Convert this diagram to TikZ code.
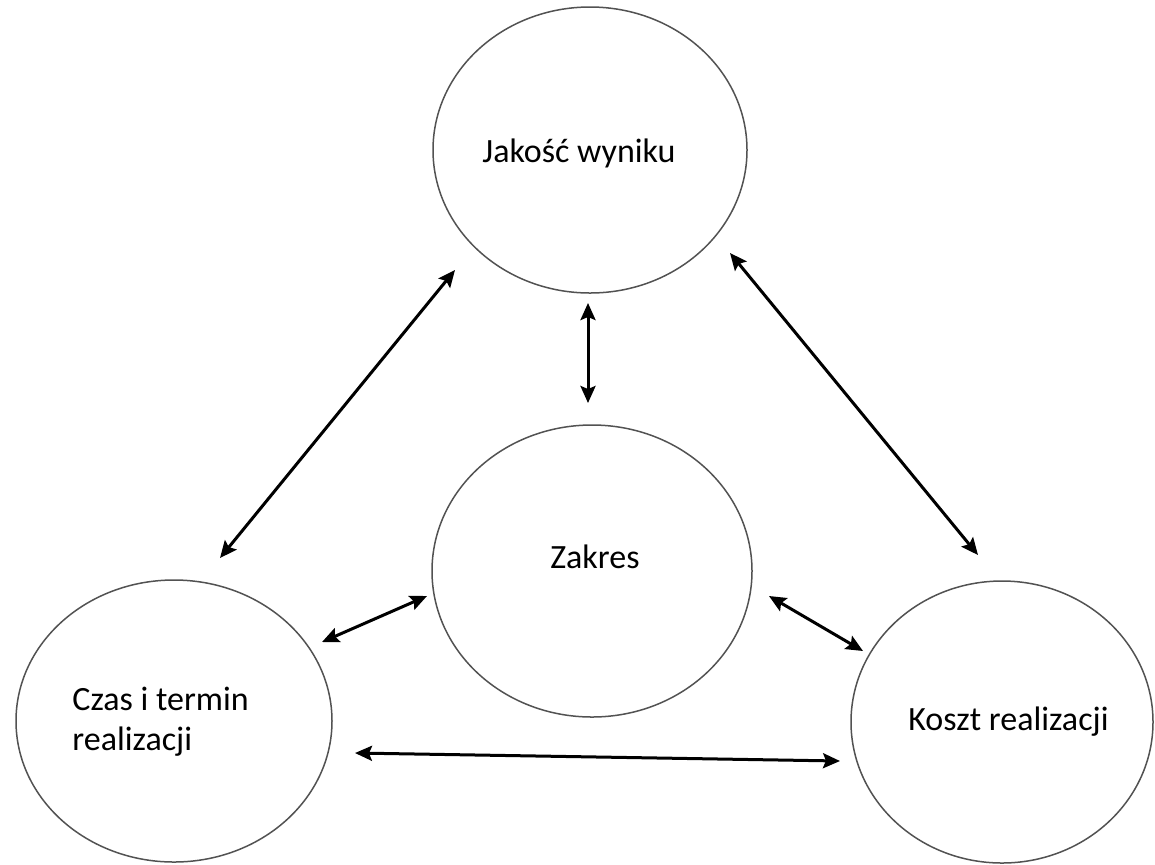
\documentclass[tikz,border=0pt]{standalone}
\usepackage{fontspec}
\setmainfont{Carlito}
\usetikzlibrary{shapes.geometric,arrows.meta}
\begin{document}
\begin{tikzpicture}[x=0.5pt,y=-0.5pt,
  circ/.style={draw=black!68, line width=0.75pt, ellipse, inner sep=0pt},
  lbl/.style={font=\fontsize{17}{20}\selectfont, text=black, inner sep=0pt, anchor=base west},
  link/.style={line width=1.5pt, {Stealth[length=8.5pt,width=7.5pt,inset=1.5pt]}-{Stealth[length=8.5pt,width=7.5pt,inset=1.5pt]}}]
\useasboundingbox (0,0) rectangle (1155,864);
% ellipses
\node[circ, minimum width=157pt, minimum height=143pt] (quality) at (590,150) {};
\node[circ, minimum width=160pt, minimum height=146pt] (scope) at (592,571) {};
\node[circ, minimum width=158pt, minimum height=141pt] (time) at (174,721) {};
\node[circ, minimum width=151pt, minimum height=141pt] (cost) at (1002,722) {};
% labels
\node[lbl] (tq) at (482,162) {Jakość wyniku};
\node[lbl] (ts) at (550,568) {Zakres};
\node[lbl] (tt1) at (72,710) {Czas i termin};
\node[lbl] (tt2) at (72,750) {realizacji};
\node[lbl] (tc) at (908,730) {Koszt realizacji};
% arrow end points
\coordinate (qs1) at (588,303);
\coordinate (qs2) at (588,403);
\coordinate (qt1) at (455,270);
\coordinate (qt2) at (220,558);
\coordinate (qc1) at (730,253);
\coordinate (qc2) at (978,555);
\coordinate (st1) at (427,596);
\coordinate (st2) at (322,642);
\coordinate (sc1) at (769,596);
\coordinate (sc2) at (863,651);
\coordinate (tc1) at (355,753);
\coordinate (tc2) at (840,761);
% connectors
\draw[link] (qs1) -- (qs2);
\draw[link] (qt1) -- (qt2);
\draw[link] (qc1) -- (qc2);
\draw[link] (st1) -- (st2);
\draw[link] (sc1) -- (sc2);
\draw[link] (tc1) -- (tc2);
\end{tikzpicture}
\end{document}
